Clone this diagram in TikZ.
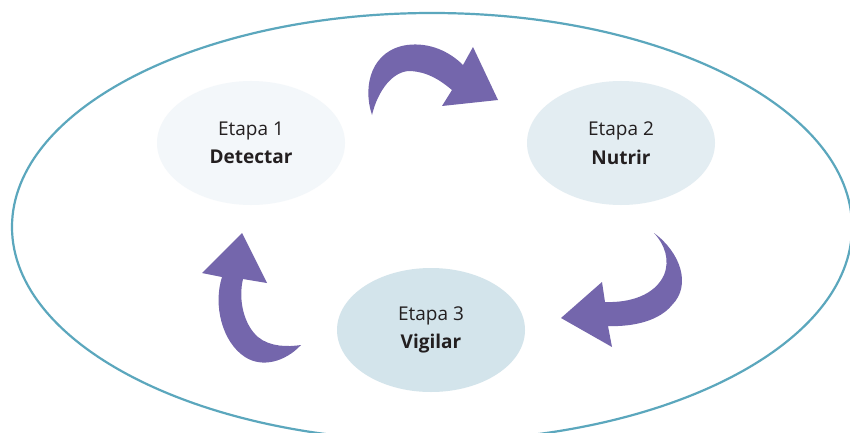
\documentclass[tikz,border=0pt]{standalone}
\usepackage{fontspec}
\setmainfont{Open Sans}
\usetikzlibrary{shapes.geometric}
\definecolor{ringc}{HTML}{5BA7BD}
\definecolor{arrc}{HTML}{7466AC}
\definecolor{f1}{HTML}{F3F7FA}
\definecolor{f2}{HTML}{E3EDF2}
\definecolor{f3}{HTML}{D3E4EB}
\definecolor{txt}{HTML}{231F20}
\tikzset{
  stage/.style={ellipse, draw=none, minimum width=188pt, minimum height=124pt, inner sep=0pt, align=center, font=\fontsize{19}{28.5}\selectfont, text=txt},
  blockarrow/.style={fill=arrc, draw=none},
  ring/.style={draw=ringc, line width=2.2pt}
}
\begin{document}
\begin{tikzpicture}[x=1pt,y=-1pt]
\useasboundingbox (0,0) rectangle (850,433);
\fill[white] (0,0) rectangle (850,433);
\draw[ring] (432,227) ellipse [x radius=420, y radius=214];
\node[stage, fill=f1] (s1) at (251,143) {Etapa 1\\\textbf{Detectar}};
\node[stage, fill=f2] (s2) at (621,143) {Etapa 2\\\textbf{Nutrir}};
\node[stage, fill=f3] (s3) at (431,330) {Etapa 3\\\textbf{Vigilar}};
% arrow 1 (top)
\fill[blockarrow] (372,115) .. controls (362,85) and (372,50) .. (407,45)
  .. controls (430,42) and (450,52) .. (463,65) -- (473,47) -- (498,100) -- (442,106) -- (452,90)
  .. controls (440,80) and (428,72) .. (410,71) .. controls (393,71) and (378,90) .. (372,115) -- cycle;
% arrow 2 (right)
\fill[blockarrow] (654,233) .. controls (680,252) and (692,285) .. (672,305)
  .. controls (660,320) and (635,327) .. (608,326) -- (612,347) -- (561,318) -- (602,282) -- (605,302)
  .. controls (630,303) and (655,295) .. (664,275) .. controls (670,260) and (665,245) .. (654,233) -- cycle;
% arrow 3 (left)
\fill[blockarrow] (301,345) .. controls (285,362) and (262,368) .. (245,357)
  .. controls (222,342) and (213,305) .. (222,277) -- (202,273) -- (242,233) -- (267,283) -- (243,279)
  .. controls (238,300) and (244,325) .. (258,337) .. controls (270,347) and (288,347) .. (301,345) -- cycle;
\end{tikzpicture}
\end{document}
